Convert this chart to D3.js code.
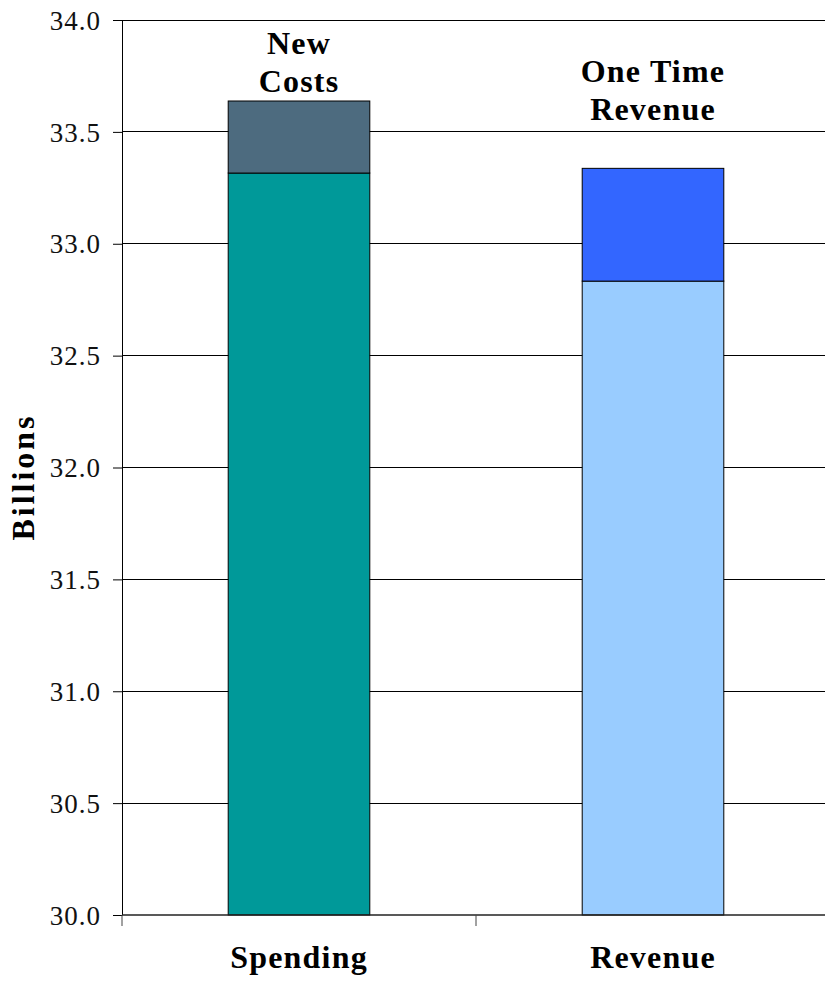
<!DOCTYPE html>
<html><head><meta charset="utf-8">
<script src="https://cdn.jsdelivr.net/npm/d3@7"></script>
<style>body{margin:0;background:#fff}svg{display:block}</style>
</head><body>
<svg id="c" width="825" height="981"></svg>
<script>
const categories = ["Spending", "Revenue"];
const baseValues = [33.316, 32.833];
const topValues = [33.638, 33.337];
const topLabels = [["New", "Costs"], ["One Time", "Revenue"]];
const baseColors = ["#009999", "#99CCFF"];
const topColors = ["#4D6B7F", "#3366FF"];
const yTicks = [30.0, 30.5, 31.0, 31.5, 32.0, 32.5, 33.0, 33.5, 34.0];
const labelGaps = [9, 48];

const font = "'Liberation Serif','Times New Roman',serif";
const svg = d3.select("#c");
const m = {l:122, r:825, t:20, b:915};
const x = d3.scaleBand().domain(categories).range([m.l, m.l + 708]).paddingInner(0.6).paddingOuter(0.3);
const y = d3.scaleLinear().domain([30, 34]).range([m.b, m.t]);

// gridlines
svg.append("g").selectAll("line").data(yTicks.slice(1)).join("line")
  .attr("x1", m.l).attr("x2", m.r).attr("y1", d=>y(d)).attr("y2", d=>y(d))
  .attr("stroke", "#000").attr("stroke-width", 1).attr("shape-rendering","crispEdges");

// bars
const g = svg.append("g");
categories.forEach((c,i)=>{
  g.append("rect").attr("x", x(c)).attr("width", x.bandwidth())
   .attr("y", y(baseValues[i])).attr("height", y(30)-y(baseValues[i]))
   .attr("fill", baseColors[i]).attr("stroke","#000").attr("stroke-width",1);
  g.append("rect").attr("x", x(c)).attr("width", x.bandwidth())
   .attr("y", y(topValues[i])).attr("height", y(baseValues[i])-y(topValues[i]))
   .attr("fill", topColors[i]).attr("stroke","#000").attr("stroke-width",1);
  const t = svg.append("text").attr("text-anchor","middle")
    .style("font-family", font).style("font-weight","bold").style("font-size","32px")
    .style("letter-spacing","1.2px").attr("fill","#000");
  const lines = topLabels[i];
  const lh = 38;
  const startY = y(topValues[i]) - labelGaps[i] - (lines.length-1)*lh;
  lines.forEach((ln,k)=>{
    t.append("tspan").attr("x", x(c)+x.bandwidth()/2).attr("y", startY + k*lh).text(ln);
  });
});

// y axis
const ya = svg.append("g").attr("transform",`translate(${m.l},0)`)
  .call(d3.axisLeft(y).tickValues(yTicks).tickFormat(d3.format(".1f")).tickSize(9).tickSizeOuter(0));
ya.select(".domain").attr("stroke","#000");
ya.selectAll(".tick line").attr("stroke","#000");
ya.selectAll(".tick text").style("font-family",font).style("font-size","27px")
  .style("letter-spacing","1px").attr("fill","#111").attr("x",-21).attr("dy","0.34em");

// x axis
const xa = svg.append("g").attr("transform",`translate(0,${m.b})`);
xa.append("line").attr("x1", m.l).attr("x2", m.r).attr("stroke","#222").attr("stroke-width",1.5);
const bounds = [m.l, m.l+354];
xa.selectAll("line.tk").data(bounds).join("line").attr("class","tk")
  .attr("x1",d=>d).attr("x2",d=>d).attr("y1",0).attr("y2",11).attr("stroke","#444");
xa.selectAll("text").data(categories).join("text")
  .attr("x", d=>x(d)+x.bandwidth()/2).attr("y", 53).attr("text-anchor","middle")
  .style("font-family",font).style("font-weight","bold").style("font-size","32px")
  .style("letter-spacing","1.2px").attr("fill","#000").text(d=>d);

// y label
svg.append("text").attr("transform","translate(34,477) rotate(-90)").attr("text-anchor","middle")
  .style("font-family",font).style("font-weight","bold").style("font-size","32px")
  .style("letter-spacing","3px").attr("fill","#000").text("Billions");
</script>
</body></html>
